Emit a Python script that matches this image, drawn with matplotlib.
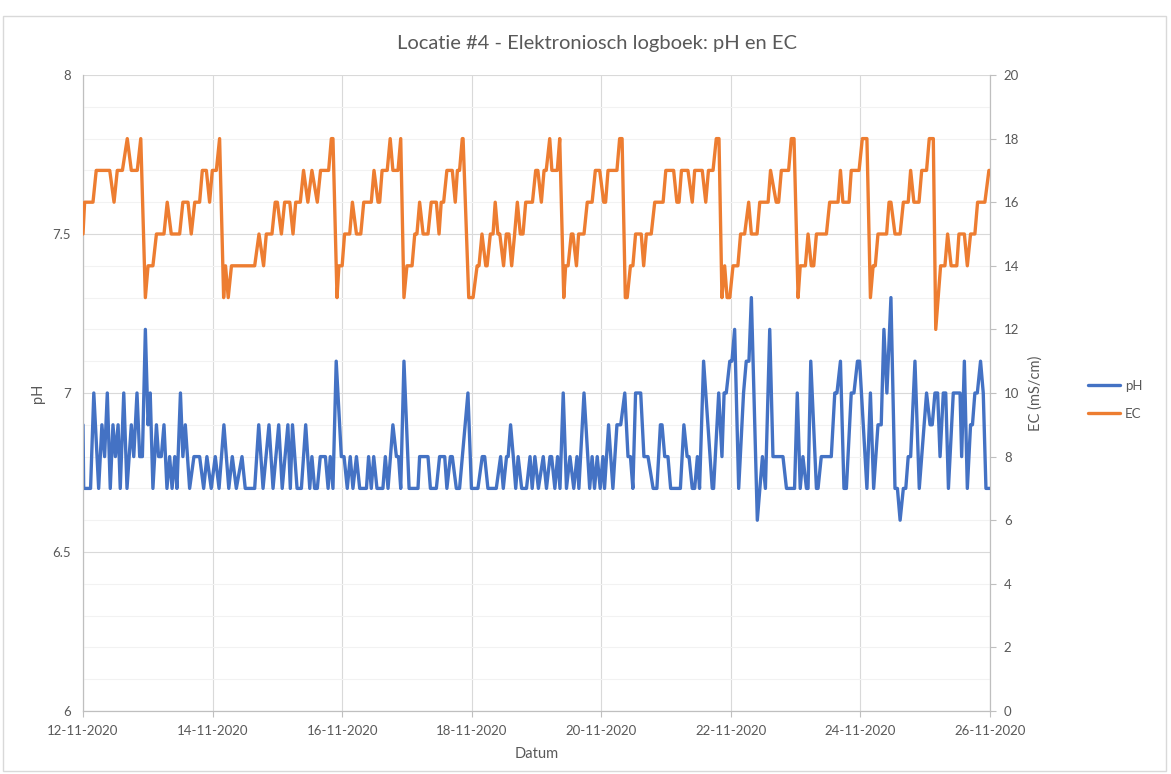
import matplotlib
matplotlib.use("Agg")
import matplotlib.pyplot as plt
import matplotlib.dates as mdates
from matplotlib.patches import Rectangle
import pandas as pd

ph_hours = [0, 0.25, 2.8, 4.0, 5.8, 7.0, 8.0, 9.0, 10.1, 11.1, 12.0, 13.0, 13.8, 15.1, 16.3, 17.9, 18.8, 20.0, 21.0, 22.0,
            23.1, 24.1, 24.9, 25.9, 27.2, 28.0, 29.0, 30.0, 31.1, 32.1, 33.0, 34.0, 34.8, 36.1, 37.0, 37.9, 39.5, 41.1,
            43.2, 44.7, 45.9, 47.5, 49.0, 50.4, 52.2, 54.0, 55.3, 56.8, 58.9, 60.1, 63.6, 65.1, 66.7, 68.9, 70.4, 72.5,
            73.8, 75.9, 76.8, 77.6, 79.3, 80.9, 82.5,
            84.0, 84.8, 85.8, 86.8, 87.9, 89.8, 90.8, 91.6, 92.6, 93.8, 95.7, 96.7, 97.9, 99.0, 100.0, 101.3, 102.5, 105.0,
            105.8, 106.8, 107.7, 108.9, 111.1, 112.0, 113.0, 114.8, 116.1, 116.9, 117.7, 118.9, 120.8, 124.1, 124.7,
            127.8, 128.7, 130.9, 132.1, 134.0, 134.8, 136.1, 136.8, 138.3, 139.5, 142.6, 143.9, 146.3, 147.9, 148.8, 150.0,
            153.1, 154.7, 155.7, 156.9, 157.5, 158.4, 159.4, 160.3, 161.2, 162.5, 164.3, 165.6, 166.4, 167.4, 168.7, 170.5,
            171.7, 173.0, 173.6, 174.8, 175.8, 176.7, 177.9, 179.1, 180.4,
            181.8, 183.0, 183.7, 185.6, 187.7, 188.6, 189.5, 190.5, 191.6, 192.6, 193.2, 194.7, 196.3, 197.8, 199.2, 200.7,
            201.9, 202.8, 203.7, 204.7, 206.6, 207.8, 209.3, 211.2,
            212.6, 213.9, 214.5, 215.5, 216.7, 217.7, 221.3, 222.6, 223.8, 224.5, 225.7, 226.6, 227.6, 228.4, 229.9, 233.1,
            233.6, 235.5, 236.7, 237.5, 238.3, 239.6, 240.4, 241.4, 242.9, 244.7, 245.7, 246.7, 247.6, 249.8, 251.7, 252.8,
            254.4,
            255.6, 259.3, 260.6, 263.6, 264.6, 265.7, 266.7, 268.0, 268.6, 269.6, 271.7, 272.3, 273.5, 277.2, 278.5, 279.3,
            280.6, 281.9, 282.8, 284.6, 285.6, 286.9, 287.7, 290.4, 291.7, 292.9, 294.5, 295.7, 296.7, 297.8,
            299.3, 300.8, 301.7, 302.7, 303.9, 304.8, 305.7, 306.6, 308.2, 309.8, 312.5, 313.8, 314.6, 315.6, 316.6, 317.5,
            318.7, 319.6, 320.6, 322.4, 324.9, 325.5, 326.5, 327.6, 328.8, 329.5, 330.4, 331.3, 332.5, 333.5, 334.5, 336.0]
ph_values = [6.9, 6.7, 6.7, 7.0, 6.7, 6.9, 6.8, 7.0, 6.7, 6.9, 6.8, 6.9, 6.7, 7.0, 6.7, 6.9, 6.8, 7.0, 6.8, 6.8,
             7.2, 6.9, 7.0, 6.7, 6.9, 6.8, 6.8, 6.9, 6.7, 6.8, 6.7, 6.8, 6.7, 7.0, 6.8, 6.9, 6.7, 6.8,
             6.8, 6.7, 6.8, 6.7, 6.8, 6.7, 6.9, 6.7, 6.8, 6.7, 6.8, 6.7, 6.7, 6.9, 6.7, 6.9, 6.7, 6.9,
             6.7, 6.9, 6.7, 6.9, 6.7, 6.7, 6.9,
             6.7, 6.8, 6.7, 6.7, 6.8, 6.8, 6.7, 6.8, 6.7, 7.1, 6.8, 6.8, 6.7, 6.8, 6.7, 6.8, 6.7, 6.7,
             6.8, 6.7, 6.8, 6.7, 6.7, 6.8, 6.7, 6.9, 6.8, 6.8, 6.7, 7.1, 6.7, 6.7, 6.8,
             6.8, 6.7, 6.7, 6.8, 6.8, 6.7, 6.8, 6.8, 6.7, 6.7, 7.0, 6.7, 6.7, 6.8, 6.8, 6.7,
             6.7, 6.8, 6.7, 6.8, 6.8, 6.9, 6.8, 6.7, 6.8, 6.7, 6.7, 6.8, 6.7, 6.8, 6.7, 6.8,
             6.7, 6.8, 6.8, 6.7, 6.8, 6.7, 7.0, 6.7, 6.8,
             6.7, 6.8, 6.7, 7.0, 6.7, 6.8, 6.7, 6.8, 6.7, 6.8, 6.7, 6.9, 6.7, 6.9, 6.9, 7.0,
             6.8, 6.8, 6.7, 7.0, 7.0, 6.8, 6.8, 6.7,
             6.7, 6.9, 6.9, 6.8, 6.8, 6.7, 6.7, 6.9, 6.8, 6.8, 6.7, 6.7, 6.8, 6.7, 7.1, 6.7,
             6.7, 7.0, 6.8, 7.0, 7.0, 7.1, 7.1, 7.2, 6.7, 7.0, 7.1, 7.1, 7.3, 6.6, 6.8, 6.7,
             7.2,
             6.8, 6.8, 6.7, 6.7, 7.0, 6.7, 6.8, 6.7, 6.7, 7.1, 6.7, 6.7, 6.8, 6.8, 7.0, 7.0,
             7.1, 6.7, 6.7, 7.0, 7.0, 7.1, 7.1, 6.7, 7.0, 6.7, 6.9, 6.9, 7.2, 7.0,
             7.3, 6.7, 6.7, 6.6, 6.7, 6.7, 6.8, 6.8, 7.1, 6.7, 7.0, 6.9, 6.9, 7.0, 7.0, 6.8,
             7.0, 7.0, 6.7, 7.0, 7.0, 6.8, 7.1, 6.7, 6.9, 6.9, 7.0, 7.0, 7.1, 7.0, 6.7, 6.7]

ec_hours = [0, 0.6, 3.7, 4.9, 9.9, 11.5, 12.7, 14.6, 16.4, 17.9, 20.1, 21.4, 23.1, 24.1, 25.9, 27.2, 30.0, 31.2, 32.7,
            35.8, 37.0, 38.9, 40.1, 41.4,
            43.2, 44.2, 45.7, 46.9, 47.9, 49.4, 50.6, 52.1, 52.8, 53.8, 55.0, 63.6, 65.2, 66.9, 67.9, 70.0, 71.2, 72.0,
            73.5, 74.7, 76.6, 77.8, 78.8, 80.5, 81.7, 83.3, 84.8,
            86.8, 88.0, 91.0, 92.0, 92.6, 94.1, 94.8, 96.0, 96.9, 98.8, 99.8, 101.3, 102.9, 104.0, 106.8, 107.8, 109.3,
            109.9, 110.8, 112.7, 113.8, 114.8, 116.7, 117.7, 118.9, 120.0, 121.9, 122.9, 123.7, 124.7, 126.0,
            127.8, 129.0, 130.9, 131.9, 132.7, 133.6, 134.8, 136.8, 137.9, 138.7, 139.5, 140.5, 140.8, 142.9, 144.5,
            146.0, 146.7, 147.8, 149.2, 149.7, 150.9, 151.9, 152.7, 153.7, 154.4, 155.8, 156.8, 157.8, 158.8, 159.9,
            160.9, 162.0, 163.0, 164.0, 166.5, 167.7, 168.5, 169.8,
            170.8, 171.6, 172.9, 173.7, 175.7, 176.6, 178.1, 178.8, 179.7, 180.9, 181.5, 182.8, 183.6, 185.6, 186.8,
            188.6, 189.8, 191.4, 192.9, 193.6, 194.5, 197.8, 198.8, 199.7, 200.9, 201.6, 202.8, 203.7, 204.7, 206.8,
            207.7, 208.7, 210.5, 211.8,
            214.9, 215.9, 218.8, 220.0, 220.8, 221.7, 224.1, 225.7, 226.6, 229.4, 230.7, 231.7, 233.4, 234.6, 235.6,
            236.7, 237.7, 238.6, 239.6, 240.8, 242.6, 243.6, 245.1, 246.6, 247.6, 249.7, 250.7, 253.8, 254.7,
            256.8, 257.7, 258.7, 261.4, 262.4, 263.4, 264.9, 265.7, 267.6, 268.6, 269.8, 270.7, 271.7, 275.4, 276.6,
            279.7, 280.6, 281.5, 283.8, 284.6, 287.5, 288.7, 290.4, 291.7, 292.7, 293.5, 294.5,
            297.7, 298.6, 299.3, 300.8, 302.7, 303.9, 305.7, 306.6, 307.8, 309.7, 310.7, 312.5, 313.5, 315.0, 315.9,
            317.7, 319.3, 320.3, 321.6, 323.7, 324.5, 326.5, 327.6, 328.8, 330.4, 331.4, 334.1, 335.6, 336.0]
ec_values = [15, 16, 16, 17, 17, 16, 17, 17, 18, 17, 17, 18, 13, 14, 14, 15, 15, 16, 15,
             15, 16, 16, 15, 16,
             16, 17, 17, 16, 17, 17, 18, 13, 14, 13, 14, 14, 15, 14, 15, 15, 16, 16,
             15, 16, 16, 15, 16, 16, 17, 16, 17,
             16, 17, 17, 18, 18, 13, 14, 14, 15, 15, 16, 15, 15, 16, 16, 17, 16,
             16, 17, 17, 18, 17, 17, 18, 13, 14, 14, 15, 15, 16, 15,
             15, 16, 16, 15, 16, 16, 17, 17, 16, 17, 17, 18, 18, 13, 13,
             14, 14, 15, 14, 14, 15, 15, 16, 15, 15, 14, 15, 15, 14, 15,
             16, 15, 15, 16, 16, 17, 17, 16,
             17, 17, 18, 17, 17, 18, 13, 14, 14, 15, 15, 14, 15, 15, 16,
             16, 17, 17, 16, 16, 17, 17, 18, 18, 13, 13, 14, 14, 15, 15,
             14, 15, 15, 16,
             16, 17, 17, 16, 16, 17, 17, 16, 17, 17, 16, 17, 17, 18, 18,
             13, 14, 13, 13, 14, 14, 15, 15, 16, 15, 15, 16, 16, 17,
             16, 16, 17, 17, 18, 18, 13, 14, 14, 15, 14, 14, 15, 15, 16,
             16, 17, 16, 16, 17, 17, 18, 18, 13, 14, 14, 15,
             15, 16, 16, 15, 15, 16, 16, 17, 16, 16, 17, 17, 18, 18, 12,
             14, 14, 15, 14, 14, 15, 15, 14, 15, 15, 16, 16, 17, 17]

start = pd.Timestamp("2020-11-12")
end = pd.Timestamp("2020-11-26")
ph_time = start + pd.to_timedelta(ph_hours, unit="h")
ec_time = start + pd.to_timedelta(ec_hours, unit="h")

plt.rcParams["font.family"] = ["Lato", "DejaVu Sans"]
grey = "#595959"

fig = plt.figure(figsize=(11.71, 7.74), dpi=100)
ax = fig.add_axes([83 / 1171, 1 - 711 / 774, 907 / 1171, 636 / 774])
ax2 = ax.twinx()

# chart border
fig.patches.append(Rectangle((3 / 1171, 3 / 774), 1163 / 1171, 755 / 774, transform=fig.transFigure,
                             fill=False, edgecolor="#d9d9d9", linewidth=1))

l1, = ax.plot(ph_time, ph_values, color="#4472C4", linewidth=2.4, label="pH", zorder=3,
              solid_joinstyle="round", solid_capstyle="round")
l2, = ax2.plot(ec_time, ec_values, color="#ED7D31", linewidth=2.4, label="EC", zorder=3,
               solid_joinstyle="round", solid_capstyle="round")

ax.set_xlim(start, end)
ax.set_ylim(6, 8)
ax2.set_ylim(0, 20)
ax.set_yticks([6, 6.5, 7, 7.5, 8])
ax.set_yticklabels(["6", "6.5", "7", "7.5", "8"])
ax.set_yticks([6 + 0.1 * i for i in range(21)], minor=True)
ax2.set_yticks(range(0, 21, 2))

ax.xaxis.set_major_locator(mdates.DayLocator(interval=2))
ax.xaxis.set_major_formatter(mdates.DateFormatter("%d-%m-%Y"))

ax.grid(which="minor", axis="y", color="#f2f2f2", linewidth=0.8)
ax.grid(which="major", axis="y", color="#d9d9d9", linewidth=0.8)
ax.grid(which="major", axis="x", color="#d9d9d9", linewidth=0.8)
ax.set_axisbelow(True)

for a in (ax, ax2):
    for s in a.spines.values():
        s.set_color("#bfbfbf")
    a.spines["top"].set_visible(False)
ax.tick_params(axis="y", which="both", length=0, labelsize=9.5, labelcolor=grey, pad=9)
ax.tick_params(axis="x", length=4, color="#bfbfbf", labelsize=9.5, labelcolor=grey, pad=6)
ax2.tick_params(axis="y", length=4, color="#bfbfbf", labelsize=9.5, labelcolor=grey, pad=6)

ax.set_xlabel("Datum", fontsize=10.5, color=grey)
ax.set_ylabel("pH", fontsize=10.5, color=grey)
ax2.set_ylabel("EC (mS/cm)", fontsize=10.5, color=grey)
ax.xaxis.set_label_coords(0.5, (711 - 747) / 636)
ax.yaxis.set_label_coords((45 - 83) / 907, 0.5)
ax2.yaxis.set_label_coords((1028 - 83) / 907, 0.5)

fig.text(597 / 1171, 1 - 44 / 774, "Locatie #4 - Elektroniosch logboek: pH en EC", ha="center", va="center",
         fontsize=14.5, color=grey)

fig.legend(handles=[l1, l2], loc="center left", bbox_to_anchor=(1076 / 1171, 1 - 400 / 774), frameon=False,
           fontsize=9.5, labelcolor=grey, handlelength=2.4, handletextpad=0.4, labelspacing=1.2)

fig.savefig("out.png", dpi=100)
